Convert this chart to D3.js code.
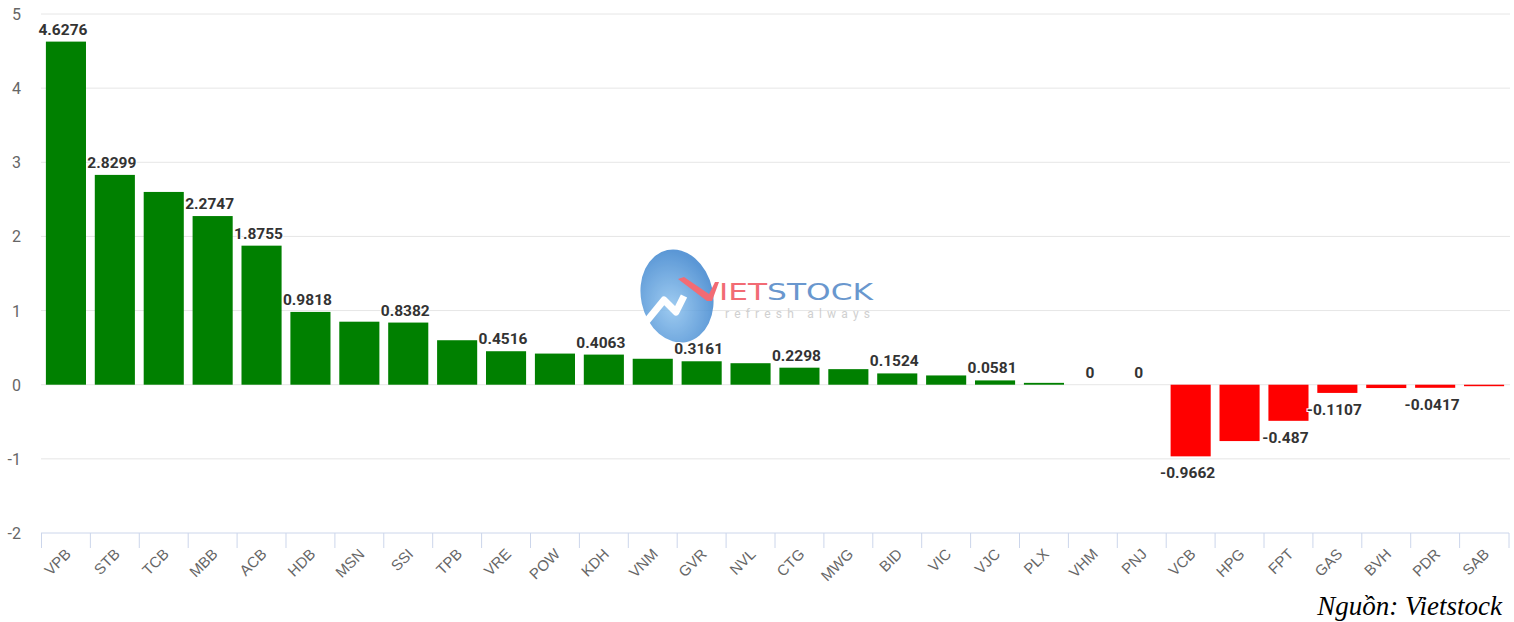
<!DOCTYPE html>
<html>
<head>
<meta charset="utf-8">
<script src="https://cdn.jsdelivr.net/npm/d3@7"></script>
<style>
  body { margin: 0; background: #fff; }
  svg { display: block; font-family: Roboto, "Noto Sans", sans-serif; }
</style>
</head>
<body>
<svg id="chart" width="1514" height="622"></svg>
<script>
const tickers = ["VPB", "STB", "TCB", "MBB", "ACB", "HDB", "MSN", "SSI", "TPB", "VRE",
  "POW", "KDH", "VNM", "GVR", "NVL", "CTG", "MWG", "BID", "VIC", "VJC",
  "PLX", "VHM", "PNJ", "VCB", "HPG", "FPT", "GAS", "BVH", "PDR", "SAB"];
const values = [4.6276, 2.8299, 2.6, 2.2747, 1.8755, 0.9818, 0.85, 0.8382, 0.6, 0.4516,
  0.42, 0.4063, 0.35, 0.3161, 0.29, 0.2298, 0.21, 0.1524, 0.125, 0.0581,
  0.025, 0, 0, -0.9662, -0.76, -0.487, -0.1107, -0.045, -0.0417, -0.02];
// labels that survive overlap in the original
const labelled = ["VPB", "STB", "MBB", "ACB", "HDB", "SSI", "VRE", "KDH", "GVR", "CTG",
  "BID", "VJC", "VHM", "PNJ", "VCB", "FPT", "GAS", "PDR"];
const yTicks = [-2, -1, 0, 1, 2, 3, 4, 5];

const svg = d3.select("#chart");
const margin = { left: 41, right: 5, top: 14, bottom: 89 };
const width = 1514, height = 622;

const x = d3.scaleBand()
  .domain(tickers)
  .range([margin.left, width - margin.right])
  .paddingInner(0.18)
  .paddingOuter(0.1);

const y = d3.scaleLinear()
  .domain([-2, 5])
  .range([height - margin.bottom, margin.top]);

// grid
svg.append("g")
  .selectAll("line")
  .data(yTicks.filter((t) => t !== -2))
  .enter()
  .append("line")
  .attr("x1", margin.left)
  .attr("x2", width - 4)
  .attr("y1", (d) => y(d))
  .attr("y2", (d) => y(d))
  .attr("stroke", "#e6e6e6")
  .attr("stroke-width", 1);

// y labels
svg.append("g")
  .selectAll("text")
  .data(yTicks)
  .enter()
  .append("text")
  .attr("x", 21)
  .attr("y", (d) => y(d) + 6)
  .attr("text-anchor", "end")
  .attr("fill", "#666")
  .attr("font-size", 16)
  .text((d) => d);

// watermark logo
const logo = svg.append("g").attr("opacity", 0.85);
const grad = svg.append("defs").append("radialGradient")
  .attr("id", "lg").attr("cx", "40%").attr("cy", "60%").attr("r", "60%");
grad.append("stop").attr("offset", "0%").attr("stop-color", "#8ec3ef");
grad.append("stop").attr("offset", "100%").attr("stop-color", "#3f86cf");
logo.append("ellipse")
  .attr("cx", 677).attr("cy", 296).attr("rx", 36).attr("ry", 47)
  .attr("transform", "rotate(-12 677 296)")
  .attr("fill", "url(#lg)");
logo.append("path")
  .attr("d", "M646,322 L664,300 L676,312 L684,296")
  .attr("fill", "none").attr("stroke", "#fff").attr("stroke-width", 7)
  .attr("stroke-linejoin", "round");
logo.append("path")
  .attr("d", "M678,279 L684,277 L709,294 L715,282 L719,282 L712,301 L707,301 Z")
  .attr("fill", "#f0525c");
const lt = logo.append("text")
  .attr("x", 719).attr("y", 300)
  .attr("font-family", "'DejaVu Sans', sans-serif")
  .attr("font-size", 23)
  .attr("textLength", 154)
  .attr("lengthAdjust", "spacingAndGlyphs");
lt.append("tspan").attr("fill", "#f0525c").text("IET");
lt.append("tspan").attr("fill", "#4f86c6").text("STOCK");
logo.append("text")
  .attr("x", 725).attr("y", 318)
  .attr("fill", "#c8c8c8")
  .attr("font-size", 12)
  .attr("textLength", 145)
  .text("refresh always");

// bars
svg.append("g")
  .selectAll("rect")
  .data(values)
  .enter()
  .append("rect")
  .attr("x", (d, i) => x(tickers[i]))
  .attr("width", x.bandwidth())
  .attr("y", (d) => y(Math.max(0, d)))
  .attr("height", (d) => Math.abs(y(d) - y(0)))
  .attr("fill", (d) => (d >= 0 ? "#008000" : "#ff0000"));

// data labels
svg.append("g")
  .selectAll("text")
  .data(values.map((v, i) => ({ v, t: tickers[i] })).filter((d) => labelled.includes(d.t)))
  .enter()
  .append("text")
  .attr("x", (d) => x(d.t) + x.bandwidth() / 2 - 3)
  .attr("y", (d) => (d.v >= 0 ? y(d.v) - 7 : y(d.v) + 22))
  .attr("text-anchor", "middle")
  .attr("font-size", 15.5)
  .attr("font-weight", 700)
  .attr("fill", "#333")
  .attr("stroke", "#fff")
  .attr("stroke-width", 2)
  .attr("paint-order", "stroke")
  .text((d) => d.v);

// x axis
const axisY = y(-2);
svg.append("line")
  .attr("x1", margin.left).attr("x2", width - margin.right)
  .attr("y1", axisY).attr("y2", axisY)
  .attr("stroke", "#ccd6eb");
const edges = tickers.map((t) => x(t) - x.step() * x.paddingInner() / 2);
edges.push(width - margin.right);
svg.append("g")
  .selectAll("line")
  .data(edges)
  .enter()
  .append("line")
  .attr("x1", (d) => d).attr("x2", (d) => d)
  .attr("y1", axisY).attr("y2", axisY + 15)
  .attr("stroke", "#ccd6eb");

svg.append("g")
  .selectAll("text")
  .data(tickers)
  .enter()
  .append("text")
  .attr("transform", (d) => `translate(${x(d) + x.bandwidth() / 2 + 6},${axisY + 22}) rotate(-45)`)
  .attr("text-anchor", "end")
  .attr("font-family", "'Liberation Sans', Arial, sans-serif")
  .attr("fill", "#666")
  .attr("font-size", 15)
  .text((d) => d);

// source
svg.append("text")
  .attr("x", 1502).attr("y", 615)
  .attr("text-anchor", "end")
  .attr("font-family", "'Liberation Serif', 'Times New Roman', serif")
  .attr("font-style", "italic")
  .attr("font-size", 27)
  .attr("fill", "#000")
  .text("Nguồn: Vietstock");
</script>
</body>
</html>
